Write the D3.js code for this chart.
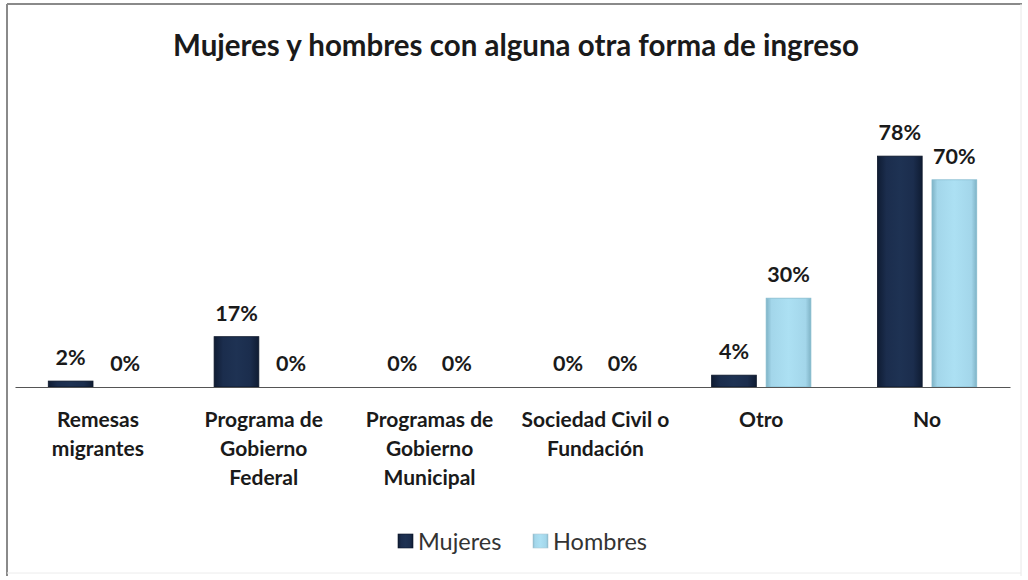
<!DOCTYPE html>
<html><head><meta charset="utf-8">
<script src="https://cdn.jsdelivr.net/npm/d3@7"></script>
<style>body{margin:0;background:#fff;}svg{display:block;}</style>
</head><body>
<svg id="c" width="1028" height="580"></svg>
<script>
const categories = [["Remesas","migrantes"],["Programa de","Gobierno","Federal"],["Programas de","Gobierno","Municipal"],["Sociedad Civil o","Fundación"],["Otro"],["No"]];
const seriesNames = ["Mujeres","Hombres"];
const mujeres = [2,17,0,0,4,78];
const hombres = [0,0,0,0,30,70];
const title = "Mujeres y hombres con alguna otra forma de ingreso";

const svg = d3.select("#c");
const font = "Lato, 'Open Sans', sans-serif";
const defs = svg.append("defs");
function grad(id, stops){
  const g = defs.append("linearGradient").attr("id",id).attr("x1","0").attr("x2","1").attr("y1","0").attr("y2","0");
  stops.forEach(s=>g.append("stop").attr("offset",s[0]).attr("stop-color",s[1]));
}
grad("gM",[[0,"#0f1c33"],[0.2,"#1b2d4d"],[0.5,"#1e3253"],[0.8,"#1b2d4d"],[1,"#0f1c33"]]);
grad("gH",[[0,"#7fb3c6"],[0.12,"#a3d6ea"],[0.5,"#ace0f3"],[0.88,"#a3d6ea"],[1,"#7fb3c6"]]);

// frame
svg.append("line").attr("x1",7).attr("x2",7).attr("y1",4).attr("y2",576).attr("stroke","#8a8a8a").attr("stroke-width",2);
svg.append("line").attr("x1",7).attr("x2",1022).attr("y1",4).attr("y2",4).attr("stroke","#8a8a8a").attr("stroke-width",2);
svg.append("line").attr("x1",1021).attr("x2",1021).attr("y1",4).attr("y2",576).attr("stroke","#e8e8e8").attr("stroke-width",1);
svg.append("line").attr("x1",7).attr("x2",1021).attr("y1",573).attr("y2",573).attr("stroke","#ececec").attr("stroke-width",1);

svg.append("text").attr("x",516).attr("y",56).attr("text-anchor","middle")
  .attr("font-family",font).attr("font-weight","bold").attr("font-size",29.5).attr("fill","#1a1a1a").text(title);

const x0 = d3.scaleBand().domain(d3.range(categories.length)).range([15,1010]).paddingInner(0).paddingOuter(0);
const x1 = d3.scaleBand().domain(seriesNames).range([0,x0.bandwidth()]).paddingInner(0.18).paddingOuter(0.61);
const y = d3.scaleLinear().domain([0,100]).range([387,91]);

const data = categories.map((c,i)=>({i, vals:[{s:"Mujeres",v:mujeres[i]},{s:"Hombres",v:hombres[i]}]}));
const g = svg.append("g");
const groups = g.selectAll("g.cat").data(data).join("g").attr("transform",d=>`translate(${x0(d.i)},0)`);
groups.selectAll("rect").data(d=>d.vals.filter(v=>v.v>0)).join("rect")
  .attr("x",d=>x1(d.s)).attr("width",x1.bandwidth())
  .attr("y",d=>y(d.v)).attr("height",d=>y(0)-y(d.v))
  .attr("fill",d=>d.s==="Mujeres"?"url(#gM)":"url(#gH)")
  .attr("stroke",d=>d.s==="Mujeres"?"#0c1629":"#86bccf").attr("stroke-width",0.8);
groups.selectAll("text").data(d=>d.vals).join("text")
  .attr("x",d=>x1(d.s)+x1.bandwidth()/2).attr("y",d=>y(d.v)-16)
  .attr("text-anchor","middle").attr("font-family",font).attr("font-weight","bold").attr("font-size",21.5).attr("fill","#1a1a1a")
  .text(d=>d.v+"%");

// axis
const ax = svg.append("g").attr("transform","translate(0,387)").call(d3.axisBottom(x0).tickSize(0).tickFormat(""));
ax.select(".domain").attr("stroke","#555").attr("stroke-width",1.2);
const lab = svg.append("g");
categories.forEach((c,i)=>{
  const t = lab.append("text").attr("x",x0(i)+x0.bandwidth()/2).attr("y",427).attr("text-anchor","middle")
    .attr("font-family",font).attr("font-weight","bold").attr("font-size",21).attr("fill","#1a1a1a");
  c.forEach((line,j)=>t.append("tspan").attr("x",x0(i)+x0.bandwidth()/2).attr("dy",j===0?0:29).text(line));
});

// legend
const leg = svg.append("g").attr("transform","translate(398,550)");
const lx = [0,135];
seriesNames.forEach((s,i)=>{
  leg.append("rect").attr("x",lx[i]).attr("y",-16).attr("width",15).attr("height",14)
    .attr("fill",i===0?"url(#gM)":"url(#gH)").attr("stroke",i===0?"#0c1629":"#b0c8d4").attr("stroke-width",0.6);
  leg.append("text").attr("x",lx[i]+20).attr("y",0).attr("font-family",font).attr("font-size",23.5).attr("fill","#333").text(s);
});
</script>
</body></html>
